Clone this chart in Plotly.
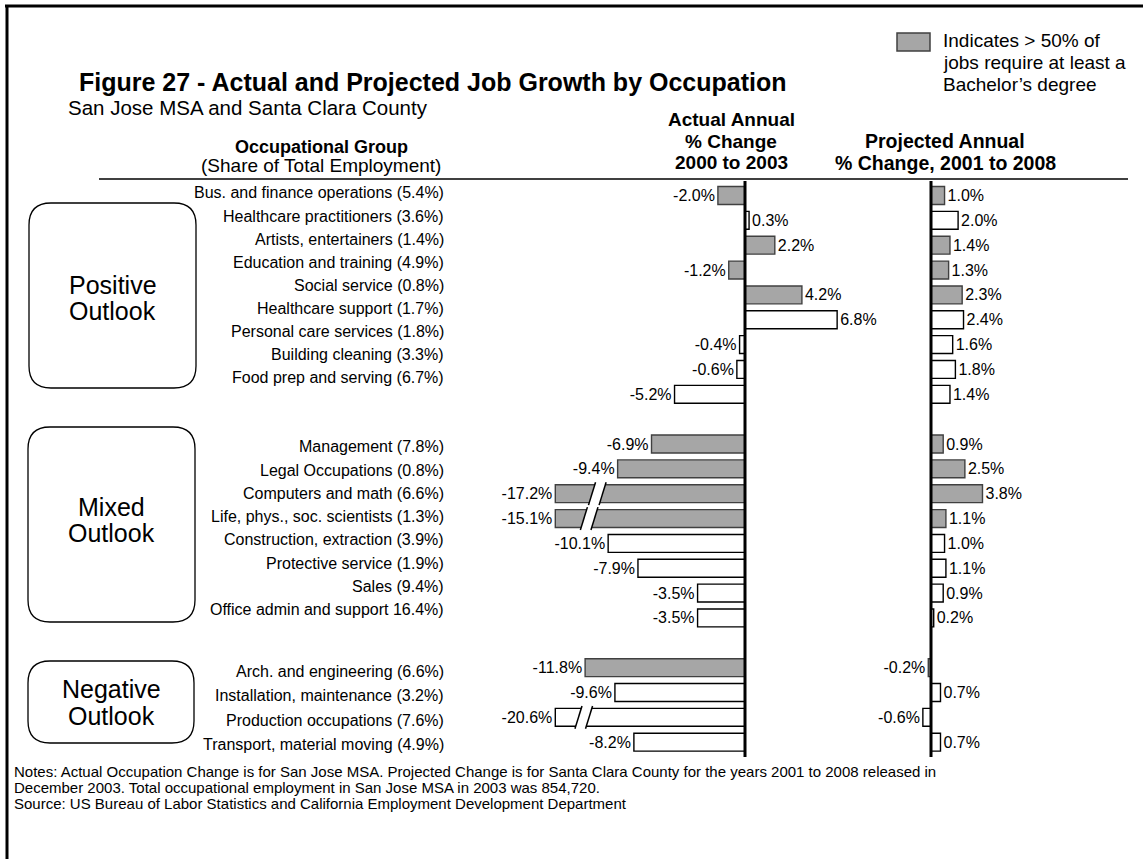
import plotly.graph_objects as go

# ---------------- data ----------------
occupations = [
    "Bus. and finance operations (5.4%)", "Healthcare practitioners (3.6%)",
    "Artists, entertainers (1.4%)", "Education and training (4.9%)",
    "Social service (0.8%)", "Healthcare support (1.7%)",
    "Personal care services (1.8%)", "Building cleaning (3.3%)",
    "Food prep and serving (6.7%)",
    "Management (7.8%)", "Legal Occupations (0.8%)", "Computers and math (6.6%)",
    "Life, phys., soc. scientists (1.3%)", "Construction, extraction (3.9%)",
    "Protective service (1.9%)", "Sales (9.4%)", "Office admin and support 16.4%)",
    "Arch. and engineering (6.6%)", "Installation, maintenance (3.2%)",
    "Production occupations (7.6%)", "Transport, material moving (4.9%)",
]
groups = ["Positive\nOutlook", "Mixed\nOutlook", "Negative\nOutlook"]
group_sizes = [9, 8, 4]
actual_change = [-2.0, 0.3, 2.2, -1.2, 4.2, 6.8, -0.4, -0.6, -5.2,
                 -6.9, -9.4, -17.2, -15.1, -10.1, -7.9, -3.5, -3.5,
                 -11.8, -9.6, -20.6, -8.2]
projected_change = [1.0, 2.0, 1.4, 1.3, 2.3, 2.4, 1.6, 1.8, 1.4,
                    0.9, 2.5, 3.8, 1.1, 1.0, 1.1, 0.9, 0.2,
                    -0.2, 0.7, -0.6, 0.7]
bachelor_majority = [1, 0, 1, 1, 1, 0, 0, 0, 0,
                     1, 1, 1, 1, 0, 0, 0, 0,
                     1, 0, 0, 0]
axis_break_at = -14.0

title = "Figure 27 - Actual and Projected Job Growth by Occupation"
subtitle = "San Jose MSA and Santa Clara County"
notes = [
    "Notes: Actual Occupation Change is for San Jose MSA. Projected Change is for Santa Clara County for the years 2001 to 2008 released in",
    "December 2003. Total occupational employment in San Jose MSA in 2003 was 854,720.",
    "Source: US Bureau of Labor Statistics and California Employment Development Department",
]

# ---------------- geometry / style ----------------
W, H = 1143, 859
FONT = "Arial, Liberation Sans, sans-serif"
GRAY = "#a6a6a6"
EDGE_GRAY = "#404040"
ROW0, ROW_STEP = 195.5, 24.85
PX_PER_PCT = 13.55
ZERO1, ZERO2 = 745, 931


def px(x):
    return x / W


def py(y):
    return 1 - y / H


# row positions: groups separated by one empty row
rows = []
r = 0
for g in group_sizes:
    rows.extend(range(r, r + g))
    r += g + 1

disp_actual = [max(v, axis_break_at) for v in actual_change]
fills = [GRAY if b else "white" for b in bachelor_majority]
edges = [EDGE_GRAY if b else "black" for b in bachelor_majority]

fig = go.Figure()
common = dict(orientation="h", width=0.72, textposition="outside",
              cliponaxis=False, constraintext="none",
              textfont=dict(family=FONT, size=16, color="black"),
              marker=dict(color=fills, line=dict(color=edges, width=1.4)),
              hoverinfo="skip", showlegend=False)
fig.add_trace(go.Bar(x=disp_actual, y=rows, xaxis="x", yaxis="y",
                     text=[f"{v:.1f}%" for v in actual_change], **common))
fig.add_trace(go.Bar(x=projected_change, y=rows, xaxis="x2", yaxis="y",
                     text=[f"{v:.1f}%" for v in projected_change], **common))

d1 = (530, 880)
d2 = (890, 1130)
fig.update_layout(
    width=W, height=H, margin=dict(l=0, r=0, t=0, b=0),
    paper_bgcolor="white", plot_bgcolor="rgba(0,0,0,0)",
    font=dict(family=FONT, color="black"),
    xaxis=dict(domain=[px(d1[0]), px(d1[1])], anchor="y", visible=False,
               range=[(d1[0] - ZERO1) / PX_PER_PCT, (d1[1] - ZERO1) / PX_PER_PCT]),
    xaxis2=dict(domain=[px(d2[0]), px(d2[1])], anchor="y", visible=False,
                range=[(d2[0] - ZERO2) / PX_PER_PCT, (d2[1] - ZERO2) / PX_PER_PCT]),
    yaxis=dict(domain=[0, 1], visible=False,
               range=[(H - ROW0) / ROW_STEP, -ROW0 / ROW_STEP]),
)

shapes = []
ann = []

# frame
shapes.append(dict(type="line", xref="paper", yref="paper", x0=px(7), x1=px(7),
                   y0=py(5), y1=py(H + 5), line=dict(color="black", width=3)))
shapes.append(dict(type="line", xref="paper", yref="paper", x0=px(5), x1=px(W + 5),
                   y0=py(6), y1=py(6), line=dict(color="black", width=3)))

# header rule
shapes.append(dict(type="line", xref="paper", yref="paper", x0=px(99), x1=px(1128),
                   y0=py(179), y1=py(179), line=dict(color="black", width=1.5)))

# zero axes
for xr in ("x", "x2"):
    shapes.append(dict(type="line", xref=xr, yref="paper", x0=0, x1=0,
                       y0=py(181), y1=py(757), line=dict(color="black", width=3),
                       layer="above"))

# axis breaks
break_centers = {11: -10.9, 12: -11.5, 19: -11.9}
gap, slant, hh = 0.78, 0.52, 0.46
for i, v in enumerate(actual_change):
    if v < axis_break_at:
        rr = rows[i]
        cx = break_centers.get(i, -11.5)
        xl_b, xl_t = cx - gap / 2 - slant / 2, cx - gap / 2 + slant / 2
        xr_b, xr_t = cx + gap / 2 - slant / 2, cx + gap / 2 + slant / 2
        yb, yt = rr + hh, rr - hh
        shapes.append(dict(type="path", xref="x", yref="y", layer="above",
                           path=f"M {xl_b},{yb} L {xl_t},{yt} L {xr_t},{yt} L {xr_b},{yb} Z",
                           fillcolor="white", line=dict(width=0)))
        for (xa, xb) in ((xl_b, xl_t), (xr_b, xr_t)):
            shapes.append(dict(type="line", xref="x", yref="y", layer="above",
                               x0=xa, y0=yb, x1=xb, y1=yt,
                               line=dict(color="black", width=1.5)))


# group boxes
def rrect(x0, y0, x1, y1, rad):
    rx, ry = rad / W, rad / H
    X0, X1, Y0, Y1 = px(x0), px(x1), py(y0), py(y1)
    return (f"M {X0+rx},{Y0} L {X1-rx},{Y0} Q {X1},{Y0} {X1},{Y0-ry} "
            f"L {X1},{Y1+ry} Q {X1},{Y1} {X1-rx},{Y1} L {X0+rx},{Y1} "
            f"Q {X0},{Y1} {X0},{Y1+ry} L {X0},{Y0-ry} Q {X0},{Y0} {X0+rx},{Y0} Z")


boxes = [(29, 203, 196, 388), (28, 427, 195, 622), (28, 661, 194, 743)]
group_text_y = [(285, 311), (507, 533), (689, 716)]
for (bx0, by0, bx1, by1), name, (ty1, ty2) in zip(boxes, groups, group_text_y):
    shapes.append(dict(type="path", xref="paper", yref="paper",
                       path=rrect(bx0, by0, bx1, by1, 22),
                       line=dict(color="black", width=1.3), fillcolor="rgba(0,0,0,0)"))
    for line_txt, ty in zip(name.split("\n"), (ty1, ty2)):
        ann.append(dict(x=px((bx0 + bx1) / 2), y=py(ty), xref="paper", yref="paper",
                        text=line_txt, showarrow=False, xanchor="center", yanchor="middle",
                        font=dict(size=25, family=FONT)))

# category labels
label_layout = [(193, 23.1), (447, 23.2), (671, 24.5)]
k = 0
for g, (top, step) in zip(group_sizes, label_layout):
    for j in range(g):
        ann.append(dict(x=px(446), y=py(top + j * step), xref="paper", yref="paper",
                        text=occupations[k], showarrow=False, xanchor="right",
                        yanchor="middle", font=dict(size=16, family=FONT)))
        k += 1

# titles
ann.append(dict(x=px(77), y=py(82), xref="paper", yref="paper", text=f"<b>{title}</b>",
                showarrow=False, xanchor="left", yanchor="middle",
                font=dict(size=25, family=FONT)))
ann.append(dict(x=px(66), y=py(108), xref="paper", yref="paper", text=subtitle,
                showarrow=False, xanchor="left", yanchor="middle",
                font=dict(size=20.5, family=FONT)))

# column headers
ann.append(dict(x=px(321), y=py(147), xref="paper", yref="paper",
                text="<b>Occupational Group</b>", showarrow=False, xanchor="center",
                yanchor="middle", font=dict(size=18, family=FONT)))
ann.append(dict(x=px(321), y=py(166), xref="paper", yref="paper",
                text="(Share of Total Employment)", showarrow=False, xanchor="center",
                yanchor="middle", font=dict(size=19, family=FONT)))
for txt, y in (("Actual Annual", 119), ("% Change", 141), ("2000 to 2003", 163)):
    ann.append(dict(x=px(731), y=py(y), xref="paper", yref="paper", text=f"<b>{txt}</b>",
                    showarrow=False, xanchor="center", yanchor="middle",
                    font=dict(size=19, family=FONT)))
for txt, y in (("Projected Annual", 141), ("% Change, 2001 to 2008", 163)):
    ann.append(dict(x=px(945), y=py(y), xref="paper", yref="paper", text=f"<b>{txt}</b>",
                    showarrow=False, xanchor="center", yanchor="middle",
                    font=dict(size=19.5, family=FONT)))

# legend
shapes.append(dict(type="rect", xref="paper", yref="paper", x0=px(897), x1=px(930),
                   y0=py(33), y1=py(51), fillcolor=GRAY,
                   line=dict(color=EDGE_GRAY, width=1.5)))
for txt, y in (("Indicates > 50% of", 40), ("jobs require at least a", 62),
               ("Bachelor\u2019s degree", 84)):
    ann.append(dict(x=px(941), y=py(y), xref="paper", yref="paper", text=txt,
                    showarrow=False, xanchor="left", yanchor="middle",
                    font=dict(size=19, family=FONT)))

# notes
for txt, y in zip(notes, (771, 787, 803)):
    ann.append(dict(x=px(12), y=py(y), xref="paper", yref="paper", text=txt,
                    showarrow=False, xanchor="left", yanchor="middle",
                    font=dict(size=15, family=FONT)))

fig.update_layout(shapes=shapes, annotations=ann)
fig.write_html("out.html", config={"displayModeBar": False},
               post_script="document.body.style.margin='0';document.body.style.overflow='hidden';")
